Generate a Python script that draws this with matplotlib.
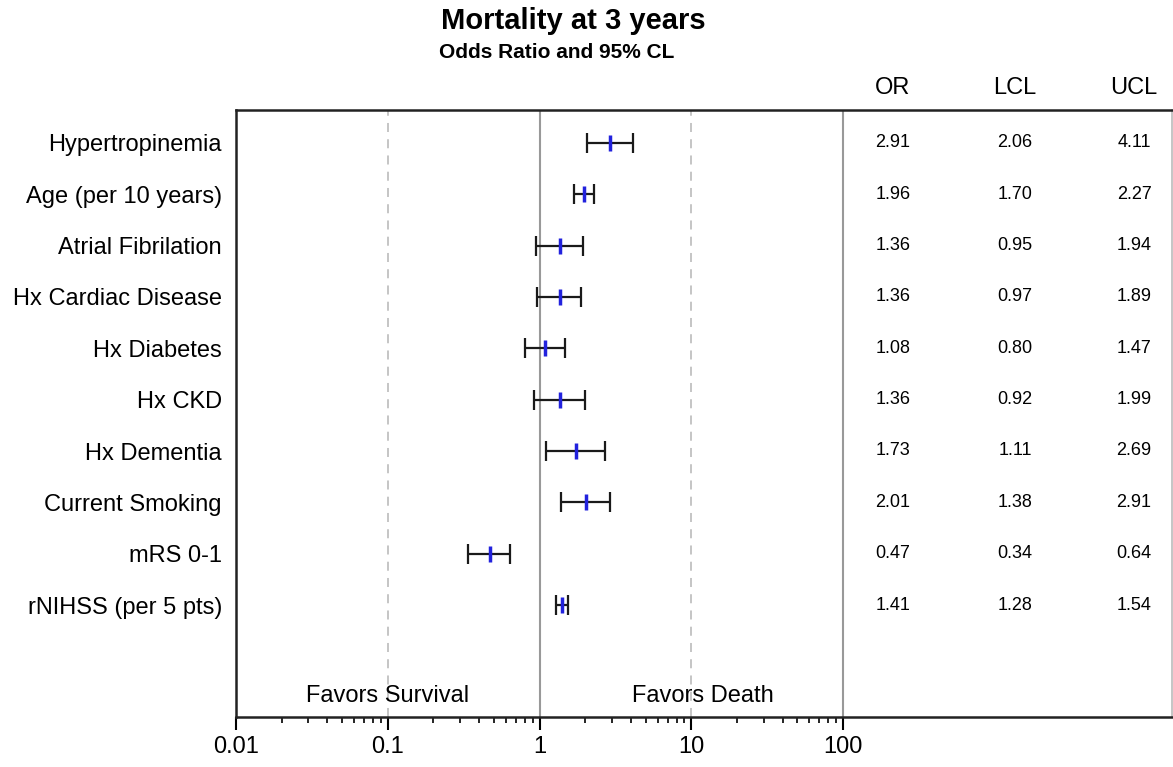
import matplotlib
matplotlib.use('Agg')
from matplotlib import pyplot as plt
from matplotlib import transforms
from matplotlib.ticker import FixedLocator, NullFormatter
import numpy as np

plt.rcParams['font.family'] = ['Liberation Sans', 'DejaVu Sans']

# data
labels = ['Hypertropinemia', 'Age (per 10 years)', 'Atrial Fibrilation',
          'Hx Cardiac Disease', 'Hx Diabetes', 'Hx CKD', 'Hx Dementia',
          'Current Smoking', 'mRS 0-1', 'rNIHSS (per 5 pts)']
odds = [2.91, 1.96, 1.36, 1.36, 1.08, 1.36, 1.73, 2.01, 0.47, 1.41]
lcl = [2.06, 1.70, 0.95, 0.97, 0.80, 0.92, 1.11, 1.38, 0.34, 1.28]
ucl = [4.11, 2.27, 1.94, 1.89, 1.47, 1.99, 2.69, 2.91, 0.64, 1.54]
major_ticks = [0.01, 0.1, 1, 10, 100]
tick_labels = ['0.01', '0.1', '1', '10', '100']

W, H = 1173, 767
fig = plt.figure(figsize=(W / 100, H / 100), dpi=100)
ax = fig.add_axes([236 / W, 1 - 717 / H, (1172 - 236) / W, (717 - 110) / H])

n = len(labels)
ypos = np.arange(n)
odds_a = np.array(odds)
err = np.vstack([odds_a - np.array(lcl), np.array(ucl) - odds_a])

ax.set_xscale('log')
ax.set_xlim(0.01, 10 ** (-2 + (1172 - 236) / 151.75))
ax.set_ylim(n - 1 + 2.18, -0.64)

# reference lines
ax.axvline(1, color='#999999', lw=1.5, zorder=1)
ax.axvline(100, color='#999999', lw=1.5, zorder=1)
for v in (0.1, 10):
    ax.axvline(v, color='#c0c0c0', lw=1.3, ls=(0, (5, 4)), zorder=1)

ax.errorbar(odds, ypos, xerr=err, fmt='none', ecolor='#1a1a1a',
            elinewidth=1.6, capsize=7, capthick=1.6, zorder=2)
ax.plot(odds, ypos, ls='none', marker='|', color='#2222dd',
        ms=11, mew=2.5, zorder=3)

# row labels, x in figure coords, y in data coords
trans = transforms.blended_transform_factory(fig.transFigure, ax.transData)
for y, lab in zip(ypos, labels):
    ax.text(222 / W, y + 0.05, lab, transform=trans, ha='right', va='center', fontsize=17)

# table
cols = [(893, 'OR', odds), (1015, 'LCL', lcl), (1134, 'UCL', ucl)]
for cx, head, vals in cols:
    fig.text(cx / W, 1 - 88 / H, head, ha='center', va='center', fontsize=17)
    for y, v in zip(ypos, vals):
        ax.text(cx / W, y, '%.2f' % v, transform=trans, ha='center', va='center', fontsize=13)

ax.text(0.1, n - 1 + 1.78, 'Favors Survival', ha='center', va='center', fontsize=17)
ax.text(12, n - 1 + 1.78, 'Favors Death', ha='center', va='center', fontsize=17)

# axes styling
ax.set_yticks([])
ax.xaxis.set_major_locator(FixedLocator(major_ticks))
ax.set_xticklabels(tick_labels)
minors = [m * d for d in (0.01, 0.1, 1, 10) for m in range(2, 10)]
ax.xaxis.set_minor_locator(FixedLocator(minors))
ax.xaxis.set_minor_formatter(NullFormatter())
ax.tick_params(axis='x', which='major', length=9, width=1.5, labelsize=17, pad=5, direction='out')
ax.tick_params(axis='x', which='minor', length=4.5, width=1.2, direction='out')
for s in ('top', 'left', 'bottom'):
    ax.spines[s].set_color('#222222')
    ax.spines[s].set_linewidth(1.8)
ax.spines['right'].set_color('#bbbbbb')
ax.spines['right'].set_linewidth(1.2)

fig.text(573 / W, 1 - 21 / H, 'Mortality at 3 years', ha='center', va='center',
         fontsize=21, fontweight='bold')
fig.text(557 / W, 1 - 52 / H, 'Odds Ratio and 95% CL', ha='center', va='center',
         fontsize=15, fontweight='bold')

fig.savefig('out.png', dpi=100)
